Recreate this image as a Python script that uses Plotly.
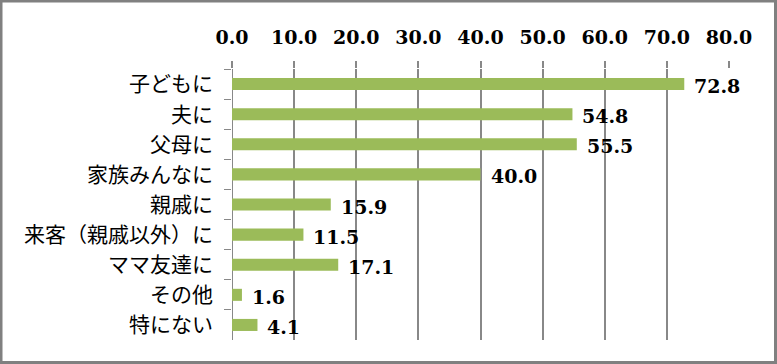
import plotly.graph_objects as go

categories = ["子どもに", "夫に", "父母に", "家族みんなに", "親戚に",
              "来客（親戚以外）に", "ママ友達に", "その他", "特にない"]
values = [72.8, 54.8, 55.5, 40.0, 15.9, 11.5, 17.1, 1.6, 4.1]
tick_vals = [0, 10, 20, 30, 40, 50, 60, 70, 80]
tick_text = ["0.0", "10.0", "20.0", "30.0", "40.0", "50.0", "60.0", "70.0", "80.0"]

num_font = dict(family="DejaVu Serif", size=19, color="black", weight="bold")

fig = go.Figure()
fig.add_trace(go.Bar(
    x=values, y=categories, orientation="h",
    marker=dict(color="#9BBB59", line=dict(width=0)),
    hoverinfo="skip",
))

for c, v in zip(categories, values):
    fig.add_annotation(
        x=v, y=c, text=f"{v:.1f}", showarrow=False,
        xanchor="left", yanchor="middle", xshift=8, yshift=-2,
        font=num_font,
    )

fig.update_layout(
    width=777, height=364,
    margin=dict(l=232, r=48, t=69, b=24),
    paper_bgcolor="white", plot_bgcolor="white",
    bargap=0.6, showlegend=False,
)

fig.update_xaxes(
    side="top", range=[0, 80], tickvals=tick_vals, ticktext=tick_text,
    showgrid=True, gridcolor="#888888", gridwidth=2,
    zeroline=True, zerolinecolor="#888888", zerolinewidth=1,
    ticks="outside", ticklen=7, tickwidth=2, tickcolor="#888888",
    ticklabelstandoff=9,
    tickfont=num_font, showline=False, fixedrange=True,
)
fig.update_yaxes(
    autorange="reversed", tickson="boundaries",
    ticks="outside", ticklen=7, tickwidth=1, tickcolor="#888888",
    showline=False, showgrid=False,
    ticklabelstandoff=18,
    tickfont=dict(family="Noto Sans CJK JP", size=21, color="black"),
    fixedrange=True,
)

# outer border of the chart area
fig.add_shape(type="rect", xref="paper", yref="paper",
              x0=-231/497, x1=1 + 46.5/497, y0=-22.5/271, y1=1 + 68/271,
              line=dict(color="#808080", width=3), layer="above")

fig.write_html("out.html", config={"displayModeBar": False},
               post_script="document.body.style.margin='0';")
